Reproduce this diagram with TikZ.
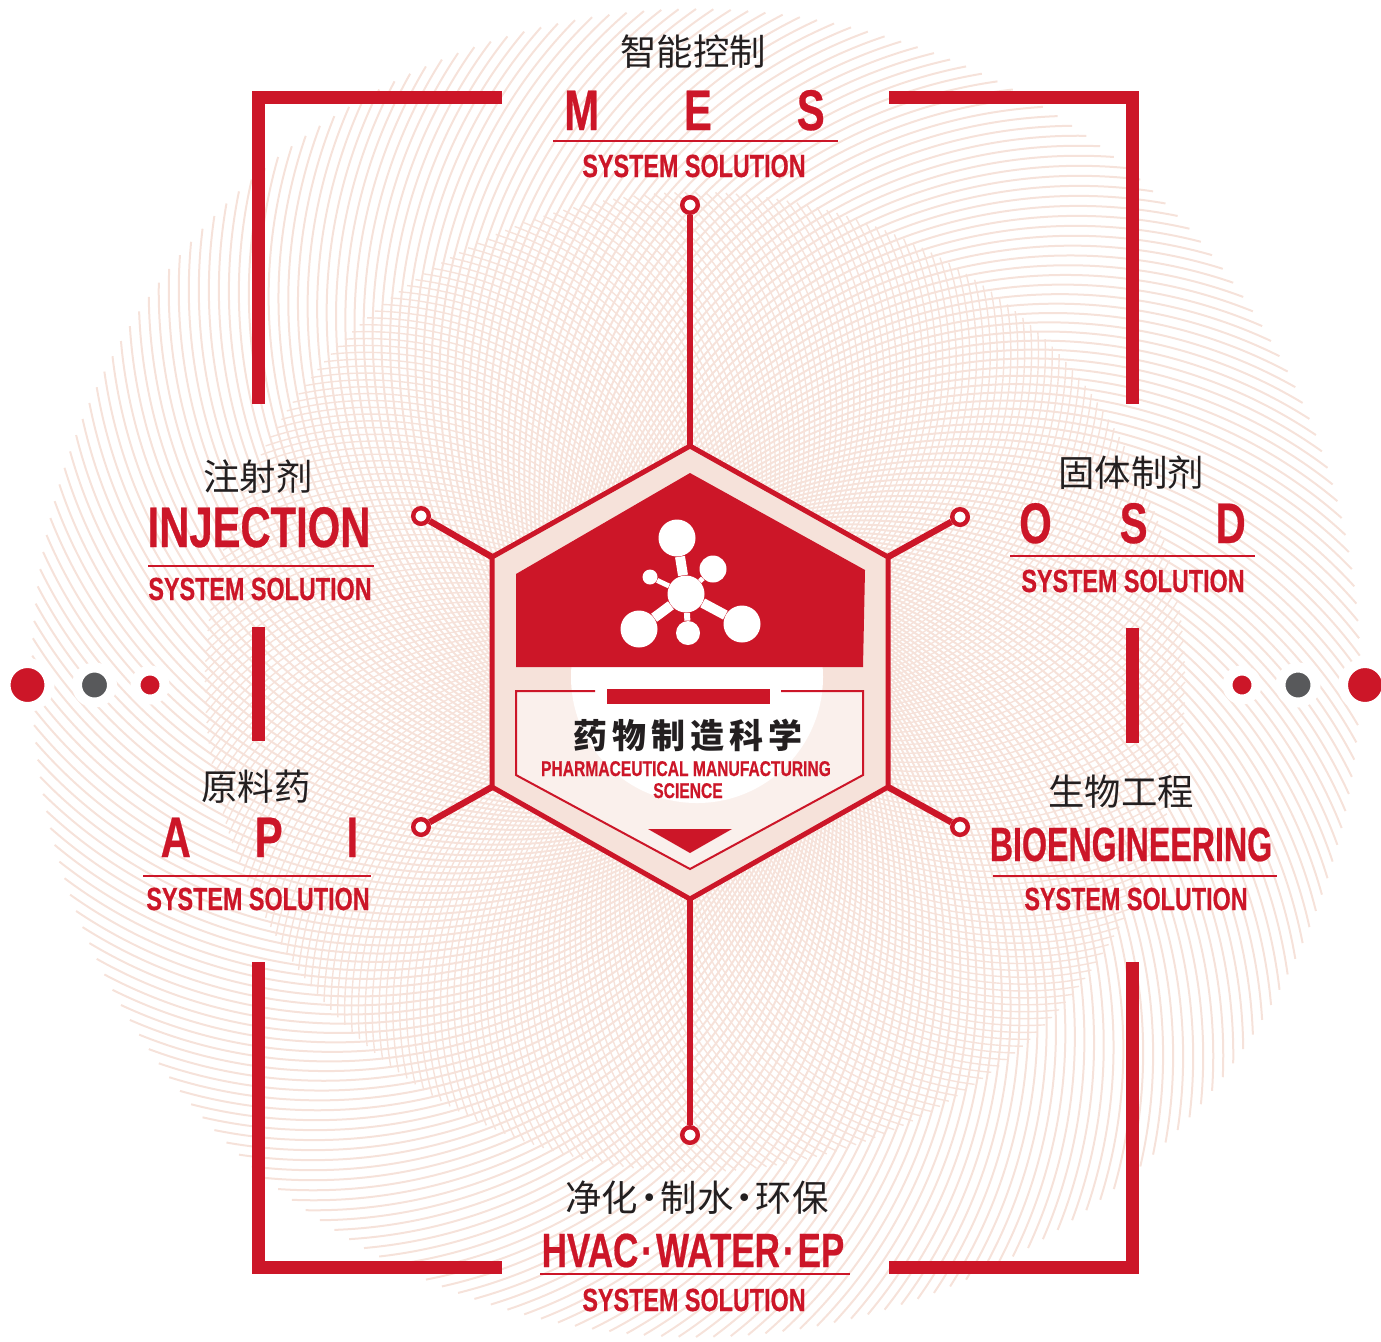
\documentclass[tikz,border=0pt]{standalone}
\usepackage{fontspec}
\usetikzlibrary{positioning, calc}
\newfontfamily\condfont[FakeStretch=.73,BoldFeatures={FakeBold=.5}]{Liberation Sans}
\newfontfamily\narrowfont[FakeStretch=.67,BoldFeatures={FakeBold=.5}]{Liberation Sans}
\newfontfamily\cjkfont{Noto Sans CJK SC}
\definecolor{brandred}{HTML}{CC1628}
\definecolor{palepink}{HTML}{F6E2DA}
\definecolor{dotgray}{HTML}{58595B}
\definecolor{inkblack}{HTML}{231F20}
\tikzset{
    %Define style for texts
    cntitle/.style={
           anchor=center,
           inner sep=0pt,
           text=inkblack,
           font=\cjkfont\fontsize{18.2}{18.2}\selectfont},
 %
    solution/.style={
           anchor=base,
           inner sep=0pt,
           text=brandred,
           font=\condfont\bfseries\fontsize{16}{16}\selectfont},
 %
    bigname/.style={
           anchor=base,
           inner sep=0pt,
           text=brandred,
           font=\condfont\bfseries\fontsize{28.6}{28.6}\selectfont},
 %
    widename/.style={
           anchor=base,
           inner sep=0pt,
           text=brandred,
           font=\narrowfont\bfseries\fontsize{24}{24}\selectfont},
 %
    % Define style for lines
    spiralline/.style={palepink, line width=1pt},
    finespiral/.style={palepink, line width=.7pt},
    bracket/.style={brandred, line width=6.5pt, line join=miter},
    rulerline/.style={brandred, line width=1.2pt},
    spoke/.style={brandred, line width=3.2pt},
    hexline/.style={brandred, line width=2.5pt, line join=miter},
    %
    ringnode/.style={
           circle,
           draw=brandred,
           fill=white,
           line width=2.2pt,
           minimum size=7.8pt,
           inner sep=0pt},
    dotnode/.style={
           circle,
           draw=white,
           line width=5pt,
           inner sep=0pt},
    atom/.style={
           circle,
           fill=white,
           inner sep=0pt}
}
\begin{document}
\begin{tikzpicture}[x=.5pt,y=.5pt]
  \useasboundingbox (0,-1341) rectangle (1381,0);

  % spirals behind everything
  \begin{scope}[shift={(696,-673)}]
    \foreach \a in {0,1.5,...,358.5}
      \draw[spiralline] (\a:664) arc ({\a+35}:{\a+135}:500);
  \end{scope}
  \begin{scope}[shift={(695,-682)}]
    \foreach \a in {0,1.2,...,358.8}
      \draw[finespiral] (\a:490) arc ({\a-42}:{\a-142}:330);
  \end{scope}

  % hexagon corners
  \coordinate (hexT) at (690,-446);
  \coordinate (hexUR) at (888,-557);
  \coordinate (hexLR) at (888,-787);
  \coordinate (hexB) at (690,-899);
  \coordinate (hexLL) at (492,-787);
  \coordinate (hexUL) at (492,-557);

  \fill[palepink] (hexT) -- (hexUR) -- (hexLR) -- (hexB) -- (hexLL) -- (hexUL) -- cycle;
  \fill[white] (697,-677) circle (126);
  \fill[white, fill opacity=.5] (516,-691) -- (516,-775) -- (690,-869) -- (863,-775) -- (863,-691) -- cycle;
  \draw[hexline] (hexT) -- (hexUR) -- (hexLR) -- (hexB) -- (hexLL) -- (hexUL) -- cycle;

  % red top shape with the molecule
  \fill[brandred] (690,-473) -- (865,-570) -- (863,-667) -- (516,-667) -- (516,-574) -- cycle;
  \node[atom, minimum size=18.5pt] (core) at (686,-594) {};
  \node[atom, minimum size=18.5pt] (atomA) at (677,-538) {};
  \node[atom, minimum size=13.5pt] (atomB) at (713,-569) {};
  \node[atom, minimum size=7.5pt] (atomC) at (650,-577) {};
  \node[atom, minimum size=18.5pt] (atomD) at (639,-629) {};
  \node[atom, minimum size=12pt] (atomE) at (688,-633) {};
  \node[atom, minimum size=18.5pt] (atomF) at (742,-624) {};
  \draw[white, line width=5pt] (core) -- (atomA);
  \draw[white, line width=2.5pt] (core) -- (atomB);
  \draw[white, line width=2.5pt] (core) -- (atomC);
  \draw[white, line width=5pt] (core) -- (atomD);
  \draw[white, line width=3pt] (core) -- (atomE);
  \draw[white, line width=5pt] (core) -- (atomF);

  % lower plate
  \draw[brandred, line width=1pt] (595,-691) -- (516,-691) -- (516,-775) -- (690,-869) -- (863,-775) -- (863,-691) -- (781,-691);
  \fill[brandred] (607,-689) rectangle (770,-704);
  \fill[brandred] (648,-829) -- (732,-829) -- (690,-853) -- cycle;
  \node[cntitle, font=\cjkfont\bfseries\fontsize{17}{17}\selectfont] (science) at (688,-735) {药\hspace{2.5pt}物\hspace{2.5pt}制\hspace{2.5pt}造\hspace{2.5pt}科\hspace{2.5pt}学};
  \node[solution, font=\condfont\bfseries\fontsize{10.7}{10.7}\selectfont] (sciA) at (686,-776) {PHARMACEUTICAL MANUFACTURING};
  \node[solution, font=\condfont\bfseries\fontsize{10.7}{10.7}\selectfont] (sciB) at (688,-798) {SCIENCE};

  % spokes
  \node[ringnode] (ringT) at (690,-205) {};
  \node[ringnode] (ringUR) at (960,-517) {};
  \node[ringnode] (ringLR) at (960,-827) {};
  \node[ringnode] (ringB) at (690,-1135) {};
  \node[ringnode] (ringLL) at (421,-827) {};
  \node[ringnode] (ringUL) at (421,-516) {};
  \draw[spoke] (hexT) -- (ringT);
  \draw[spoke] (hexUR) -- (ringUR);
  \draw[spoke] (hexLR) -- (ringLR);
  \draw[spoke] (hexB) -- (ringB);
  \draw[spoke] (hexLL) -- (ringLL);
  \draw[spoke] (hexUL) -- (ringUL);

  % brackets
  \draw[bracket] (502,-97.5) -- (258.5,-97.5) -- (258.5,-404);
  \draw[bracket] (889,-97.5) -- (1132.5,-97.5) -- (1132.5,-404);
  \draw[bracket] (258.5,-627) -- (258.5,-741);
  \draw[bracket] (1132.5,-628) -- (1132.5,-743);
  \draw[bracket] (258.5,-962) -- (258.5,-1267.5) -- (502,-1267.5);
  \draw[bracket] (1132.5,-962) -- (1132.5,-1267.5) -- (889,-1267.5);

  % side dots
  \node[dotnode, fill=brandred, minimum size=22pt] (dotL1) at (27.5,-685) {};
  \node[dotnode, fill=dotgray, minimum size=17.5pt] (dotL2) at (94.5,-685) {};
  \node[dotnode, fill=brandred, minimum size=14.5pt] (dotL3) at (150,-685) {};
  \node[dotnode, fill=brandred, minimum size=14.5pt] (dotR3) at (1242,-685) {};
  \node[dotnode, fill=dotgray, minimum size=17.5pt] (dotR2) at (1298,-685) {};
  \node[dotnode, fill=brandred, minimum size=22pt] (dotR1) at (1365,-685) {};

  % MES
  \node[cntitle] (mesCn) at (693,-52) {智能控制};
  \node[bigname] (mesName) at (694.5,-130) {M\hspace{42.5pt}E\hspace{42.5pt}S};
  \draw[rulerline] (553,-141) -- (838,-141);
  \node[solution] (mesSol) at (694,-177) {SYSTEM SOLUTION};

  % OSD
  \node[cntitle] (osdCn) at (1131,-473) {固体制剂};
  \node[bigname] (osdName) at (1132.5,-543) {O\hspace{34pt}S\hspace{34pt}D};
  \draw[rulerline] (1010,-556) -- (1255,-556);
  \node[solution] (osdSol) at (1133,-592) {SYSTEM SOLUTION};

  % INJECTION
  \node[cntitle] (injCn) at (258,-477) {注射剂};
  \node[bigname] (injName) at (259,-547) {INJECTION};
  \draw[rulerline] (148,-566) -- (374,-566);
  \node[solution] (injSol) at (260,-600) {SYSTEM SOLUTION};

  % API
  \node[cntitle] (apiCn) at (256,-787) {原料药};
  \node[bigname] (apiName) at (259.5,-857) {A\hspace{32pt}P\hspace{32pt}I};
  \draw[rulerline] (143,-876) -- (371,-876);
  \node[solution] (apiSol) at (258,-910) {SYSTEM SOLUTION};

  % BIOENGINEERING
  \node[cntitle] (bioCn) at (1121,-792) {生物工程};
  \node[widename] (bioName) at (1131,-861) {BIOENGINEERING};
  \draw[rulerline] (993,-876) -- (1277,-876);
  \node[solution] (bioSol) at (1136,-910) {SYSTEM SOLUTION};

  % HVAC
  \node[cntitle] (hvacCn) at (697,-1198) {净化\hspace{-3.5pt}·\hspace{-3.5pt}制水\hspace{-3.5pt}·\hspace{-3.5pt}环保};
  \node[widename, font=\condfont\bfseries\fontsize{24}{24}\selectfont] (hvacName) at (693,-1267) {HVAC\hspace{1.5pt}·\hspace{1.5pt}WATER\hspace{1.5pt}·\hspace{1.5pt}EP};
  \draw[rulerline] (540,-1274) -- (850,-1274);
  \node[solution] (hvacSol) at (694,-1311) {SYSTEM SOLUTION};
\end{tikzpicture}
\end{document}
